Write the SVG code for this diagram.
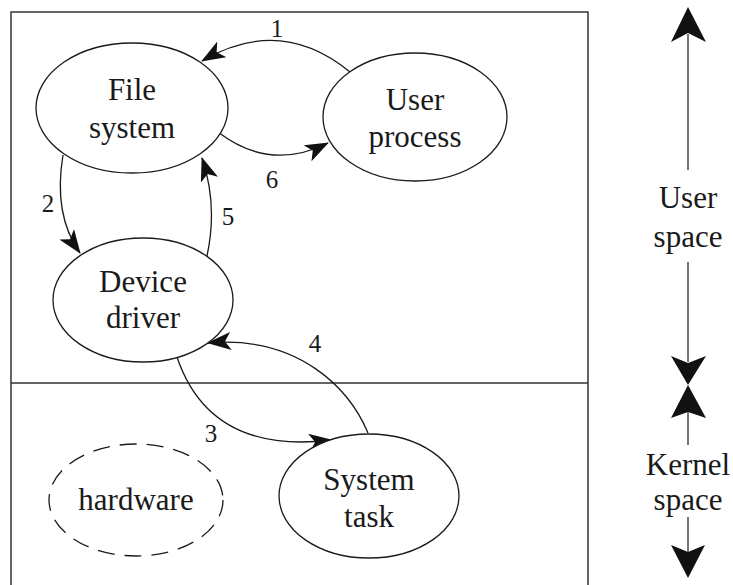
<svg xmlns="http://www.w3.org/2000/svg" width="733" height="585" viewBox="0 0 733 585">
  <defs>
    <style>
      .node { fill: #fff; stroke: #1a1a1a; stroke-width: 1.3; }
      .dashed { fill: none; stroke: #1a1a1a; stroke-width: 1.3; stroke-dasharray: 17 10; }
      .lbl { font-family: 'Liberation Serif', 'DejaVu Serif', serif; font-size: 31px; fill: #1a1a1a; text-anchor: middle; }
      .num { font-family: 'Liberation Serif', 'DejaVu Serif', serif; font-size: 25px; fill: #1a1a1a; text-anchor: middle; }
      .edge { fill: none; stroke: #1a1a1a; stroke-width: 1.3; marker-end: url(#head); }
      .frame { fill: none; stroke: #333; stroke-width: 1.5; }
      .axis { stroke: #555; stroke-width: 1.6; }
      .axhead { fill: #111; }
    </style>
    <marker id="head" viewBox="0 0 24 18" refX="23" refY="9" markerWidth="24" markerHeight="18" markerUnits="userSpaceOnUse" orient="auto">
      <path d="M24,9 L0,0 L6,9 L0,18 z" fill="#111"/>
    </marker>
  </defs>

  <rect width="733" height="585" fill="#fff"/>

  <!-- frame: user space above, kernel space below -->
  <g id="frame">
    <path class="frame" d="M11,590 L11,12 L588,12 L588,590"/>
    <line class="frame" x1="11" y1="383" x2="588" y2="383"/>
  </g>

  <!-- connectors -->
  <g id="connectors">
    <path class="edge" d="M350,72 Q280,15 202,61"/>
    <path class="edge" d="M63,155 Q53,215 80,253"/>
    <path class="edge" d="M177,357 Q210,455 332,440"/>
    <path class="edge" d="M368,433 C350,390 300,335 208,343"/>
    <path class="edge" d="M207,256 Q218,205 202,158"/>
    <path class="edge" d="M218,132 Q270,172 328,143"/>
    <text class="num" x="277" y="37">1</text>
    <text class="num" x="48" y="212">2</text>
    <text class="num" x="211" y="442">3</text>
    <text class="num" x="315" y="352">4</text>
    <text class="num" x="228" y="225">5</text>
    <text class="num" x="272" y="188">6</text>
  </g>

  <g id="file-system">
    <ellipse class="node" cx="132" cy="108" rx="96" ry="65"/>
    <text class="lbl" x="132" y="100">File</text>
    <text class="lbl" x="132" y="138">system</text>
  </g>

  <g id="user-process">
    <ellipse class="node" cx="415" cy="117" rx="92" ry="64"/>
    <text class="lbl" x="415" y="110">User</text>
    <text class="lbl" x="415" y="147">process</text>
  </g>

  <g id="device-driver">
    <ellipse class="node" cx="143" cy="300" rx="90" ry="62"/>
    <text class="lbl" x="143" y="292">Device</text>
    <text class="lbl" x="143" y="328">driver</text>
  </g>

  <g id="system-task">
    <ellipse class="node" cx="369" cy="496" rx="90" ry="62"/>
    <text class="lbl" x="369" y="490">System</text>
    <text class="lbl" x="369" y="527">task</text>
  </g>

  <g id="hardware">
    <ellipse class="dashed" cx="136" cy="500" rx="87" ry="56"/>
    <text class="lbl" x="136" y="510">hardware</text>
  </g>

  <!-- space axis on the right -->
  <g id="space-axis">
    <line class="axis" x1="688" y1="34" x2="688" y2="170"/>
    <polygon class="axhead" points="688,7 706,42 688,33 671,42"/>
    <text class="lbl" x="688" y="208">User</text>
    <text class="lbl" x="688" y="247">space</text>
    <line class="axis" x1="688" y1="262" x2="688" y2="362"/>
    <polygon class="axhead" points="688,385 706,356 688,363 671,356"/>
    <polygon class="axhead" points="688,385 706,418 688,412 671,418"/>
    <line class="axis" x1="688" y1="412" x2="688" y2="445"/>
    <text class="lbl" x="688" y="475">Kernel</text>
    <text class="lbl" x="688" y="510">space</text>
    <line class="axis" x1="688" y1="517" x2="688" y2="552"/>
    <polygon class="axhead" points="688,578 705,545 688,552 671,545"/>
  </g>
</svg>
